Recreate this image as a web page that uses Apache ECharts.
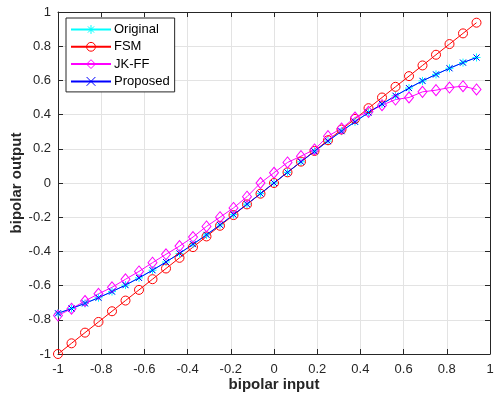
<!DOCTYPE html>
<html>
<head>
<meta charset="utf-8">
<script src="https://cdn.jsdelivr.net/npm/echarts@6/dist/echarts.min.js"></script>
<style>
  html, body { margin: 0; padding: 0; background: #fff; }
  #chart { width: 494px; height: 398px; }
</style>
</head>
<body>
<div id="chart"></div>
<script>
// x positions of the samples (step 1/16)
const inputs = [-1, -0.9375, -0.875, -0.8125, -0.75, -0.6875, -0.625, -0.5625,
  -0.5, -0.4375, -0.375, -0.3125, -0.25, -0.1875, -0.125, -0.0625,
  0, 0.0625, 0.125, 0.1875, 0.25, 0.3125, 0.375, 0.4375,
  0.5, 0.5625, 0.625, 0.6875, 0.75, 0.8125, 0.875, 0.9375]

const original = [-0.762, -0.734, -0.704, -0.671, -0.635, -0.597, -0.555, -0.510,
  -0.462, -0.412, -0.358, -0.303, -0.245, -0.185, -0.124, -0.062,
  0, 0.062, 0.124, 0.185, 0.245, 0.303, 0.358, 0.412,
  0.462, 0.510, 0.555, 0.597, 0.635, 0.671, 0.704, 0.734]

const fsm = [-1, -0.9375, -0.875, -0.8125, -0.75, -0.6875, -0.625, -0.5625,
  -0.5, -0.4375, -0.375, -0.3125, -0.25, -0.1875, -0.125, -0.0625,
  0, 0.0625, 0.125, 0.1875, 0.25, 0.3125, 0.375, 0.4375,
  0.5, 0.5625, 0.625, 0.6875, 0.75, 0.8125, 0.875, 0.9375]

const jkff = [-0.775, -0.735, -0.69, -0.648, -0.61, -0.563, -0.517, -0.466,
  -0.417, -0.369, -0.316, -0.254, -0.2, -0.146, -0.08, 0.0,
  0.06, 0.12, 0.157, 0.196, 0.274, 0.319, 0.383, 0.416,
  0.455, 0.488, 0.5, 0.533, 0.543, 0.558, 0.566, 0.547]

const proposed = [-0.762, -0.734, -0.704, -0.671, -0.635, -0.597, -0.555, -0.510,
  -0.462, -0.412, -0.358, -0.303, -0.245, -0.185, -0.124, -0.062,
  0, 0.062, 0.124, 0.185, 0.245, 0.303, 0.358, 0.412,
  0.462, 0.510, 0.555, 0.597, 0.635, 0.671, 0.704, 0.734]

const names = ['Original', 'FSM', 'JK-FF', 'Proposed']
const colors = ['#00ffff', '#ff0000', '#ff00ff', '#0000ff']

const pairs = (ys) => inputs.map((x, i) => [x, ys[i]])

const FONT = '"Liberation Sans", Arial, Helvetica, sans-serif'
const AXIS_COLOR = '#262626'
const GRID_COLOR = '#e3e3e3'
const tickFmt = (v) => String(+v.toFixed(1))

const xBase = {
  type: 'value', min: -1, max: 1, interval: 0.2
}

const chart = echarts.init(document.getElementById('chart'), null, {renderer: 'canvas'})

const makeSeries = (idx, ys, symbol, size) => ({
  name: names[idx],
  type: 'line',
  data: pairs(ys),
  symbol: symbol,
  symbolSize: size,
  showAllSymbol: true,
  lineStyle: {color: colors[idx], width: 1},
  itemStyle: {color: 'rgba(0,0,0,0)', borderColor: colors[idx], borderWidth: 1},
  emphasis: {disabled: true},
  animation: false
})

// frame axes (top / right) only carry inward ticks
const frameAxis = (pos) => Object.assign({}, xBase, {
  position: pos,
  axisLine: {show: true, onZero: false, lineStyle: {color: AXIS_COLOR, width: 1}},
  axisTick: {show: true, inside: true, length: 5, lineStyle: {color: AXIS_COLOR}},
  axisLabel: {show: false},
  splitLine: {show: false}
})

chart.setOption({
  animation: false,
  textStyle: {fontFamily: FONT},
  grid: {left: 58, right: 4, top: 12, bottom: 44, containLabel: false, outerBoundsMode: 'none'},
  legend: {
    orient: 'vertical',
    left: 66,
    top: 18,
    backgroundColor: '#fff',
    borderColor: AXIS_COLOR,
    borderWidth: 1,
    borderRadius: 0,
    padding: [4, 5, 3, 4],
    itemWidth: 40,
    itemHeight: 11,
    itemGap: 2.3,
    textStyle: {fontSize: 13, color: '#000', fontFamily: FONT, lineHeight: 15, padding: [0, 0, 0, -2]},
    data: names.map((n, i) => ({
      name: n,
      lineStyle: {color: colors[i], width: 2},
      itemStyle: {color: 'rgba(0,0,0,0)', borderColor: colors[i], borderWidth: 1}
    }))
  },
  xAxis: [
    Object.assign({}, xBase, {
      position: 'bottom',
      name: 'bipolar input',
      nameLocation: 'middle',
      nameGap: 23,
      nameMoveOverlap: false,
      nameTextStyle: {fontSize: 15, fontWeight: 'bold', color: AXIS_COLOR, fontFamily: FONT},
      axisLine: {show: true, onZero: false, lineStyle: {color: AXIS_COLOR, width: 1}},
      axisTick: {show: true, inside: true, length: 5, lineStyle: {color: AXIS_COLOR}},
      axisLabel: {fontSize: 13, color: AXIS_COLOR, margin: 9, formatter: tickFmt},
      splitLine: {show: true, lineStyle: {color: GRID_COLOR, width: 1}}
    }),
    frameAxis('top')
  ],
  yAxis: [
    Object.assign({}, xBase, {
      position: 'left',
      name: 'bipolar output',
      nameLocation: 'middle',
      nameGap: 34,
      nameMoveOverlap: false,
      nameTextStyle: {fontSize: 15, fontWeight: 'bold', color: AXIS_COLOR, fontFamily: FONT},
      axisLine: {show: true, onZero: false, lineStyle: {color: AXIS_COLOR, width: 1}},
      axisTick: {show: true, inside: true, length: 5, lineStyle: {color: AXIS_COLOR}},
      axisLabel: {fontSize: 13, color: AXIS_COLOR, margin: 7, formatter: tickFmt},
      splitLine: {show: true, lineStyle: {color: GRID_COLOR, width: 1}}
    }),
    frameAxis('right')
  ],
  series: [
    makeSeries(0, original, 'path://M5,0L5,10M0,5L10,5M1.5,1.5L8.5,8.5M8.5,1.5L1.5,8.5', 8),
    makeSeries(1, fsm, 'circle', 9),
    makeSeries(2, jkff, 'diamond', [9, 11]),
    makeSeries(3, proposed, 'path://M0,0L10,10M10,0L0,10', 6)
  ]
})
</script>
</body>
</html>
